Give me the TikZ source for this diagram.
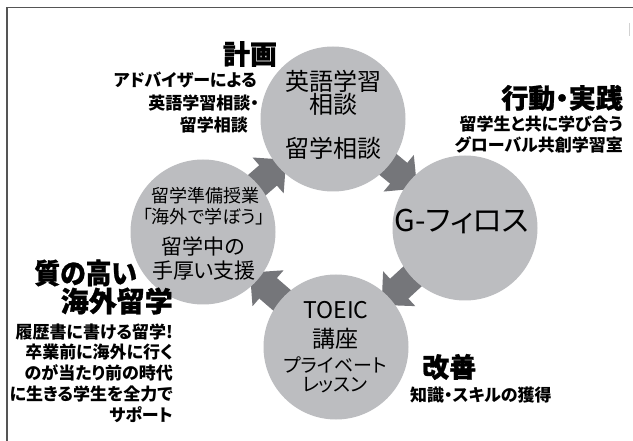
\documentclass[tikz,border=0pt]{standalone}
\usepackage{fontspec}
\newfontfamily\jp[RawFeature=+palt]{Noto Sans CJK JP}
\newfontfamily\jph[RawFeature=+palt, BoldFeatures={FakeBold=1}]{Noto Sans CJK JP}
\usetikzlibrary{arrows.meta}
\definecolor{circfill}{RGB}{188,189,192}
\definecolor{arrowgray}{RGB}{117,118,122}
\definecolor{framegray}{RGB}{85,85,85}
\pgfdeclarelayer{bg}
\pgfsetlayers{bg,main}
\tikzset{
  circ/.style={circle, fill=circfill, minimum size=145pt, inner sep=0pt},
  flow/.style={draw=arrowgray, line width=27pt, -{Triangle[width=46pt,length=24pt]},
    shorten <=40pt, shorten >=62pt},
  txt/.style={inner sep=0pt, text=black},
  big/.style={txt, font=\jph\bfseries\fontsize{27}{27}\selectfont},
  sub/.style={txt, font=\jp\bfseries\fontsize{17}{17}\selectfont},
  inA/.style={txt, font=\jp\fontsize{24}{24}\selectfont},
  inB/.style={txt, font=\jp\fontsize{18}{18}\selectfont},
  inC/.style={txt, font=\jp\fontsize{21}{21}\selectfont},
}
\begin{document}
\begin{tikzpicture}[x=1pt,y=-1pt]
\useasboundingbox (0,0) rectangle (633,441);
\begin{pgfonlayer}{bg}
  \fill[white] (0,0) rectangle (633,441);
\end{pgfonlayer}
% frame
\coordinate (fr1) at (633,7.5);
\coordinate (fr2) at (7,7.5);
\coordinate (fr3) at (7,441);
\draw[framegray, line width=1.5pt] (fr1) -- (fr2) -- (fr3);
\coordinate (mk1) at (629.5,23);
\coordinate (mk2) at (629.5,36);
\draw[gray!35, line width=1pt] (mk1) -- (mk2);

% circles
\node[circ] (top) at (333,119) {};
\node[circ] (right) at (465,228) {};
\node[circ] (bottom) at (336,347) {};
\node[circ] (left) at (203,232) {};

% arrows behind circles
\begin{pgfonlayer}{bg}
  \draw[flow] (top.center) -- (right.center);
  \draw[flow] (right.center) -- (bottom.center);
  \draw[flow] (bottom.center) -- (left.center);
  \draw[flow] (left.center) -- (top.center);
\end{pgfonlayer}

% circle texts
\node[inA] (t1) at (333,81) {英語学習};
\node[inA] (t2) at (333,104) {相談};
\node[inA] (t3) at (333,148) {留学相談};

\node[inB] (l1) at (205,195.5) {留学準備授業};
\node[inB] (l2) at (204,216.5) {「海外で学ぼう」};
\node[inC] (l3) at (203,246) {留学中の};
\node[inC] (l4) at (204,271) {手厚い支援};

\node[txt, font=\jp\fontsize{30}{30}\selectfont] (r1) at (462,221.5) {G-フィロス};

\node[txt, font=\jp\fontsize{23}{23}\selectfont] (b1) at (336,310) {TOEIC};
\node[txt, font=\jp\fontsize{23}{23}\selectfont] (b2) at (335,339) {講座};
\node[txt, font=\jp\fontsize{19}{19}\selectfont] (b3) at (335,365) {プライベート};
\node[txt, font=\jp\fontsize{19}{19}\selectfont] (b4) at (335,385.5) {レッスン};

% labels
\node[big] (k1) at (250,54) {計画};
\node[sub, anchor=east] (k2) at (257,80) {アドバイザーによる};
\node[sub, anchor=east] (k3) at (259,103) {英語学習相談・};
\node[sub, anchor=east] (k4) at (248,124.5) {留学相談};

\node[big, anchor=east] (a1) at (623,98) {行動・実践};
\node[sub, anchor=east] (a2) at (623,124) {留学生と共に学び合う};
\node[sub, anchor=east] (a3) at (623,144.5) {グローバル共創学習室};

\node[big, font=\jph\bfseries\fontsize{28}{28}\selectfont, anchor=east, xscale=0.92] (q1) at (137,273) {質の高い};
\node[big, font=\jph\bfseries\fontsize{28}{28}\selectfont, anchor=east] (q2) at (173,301) {海外留学};
\node[sub, anchor=east] (q3) at (173,332) {履歴書に書ける留学!};
\node[sub, anchor=east] (q4) at (173,352) {卒業前に海外に行く};
\node[sub, anchor=east] (q5) at (173,372.5) {のが当たり前の時代};
\node[sub, anchor=east] (q6) at (173,394) {に生きる学生を全力で};
\node[sub, anchor=east] (q7) at (173,414.5) {サポート};

\node[big, anchor=west] (z1) at (422,367) {改善};
\node[sub, anchor=west] (z2) at (410,395) {知識・スキルの獲得};
\end{tikzpicture}
\end{document}
